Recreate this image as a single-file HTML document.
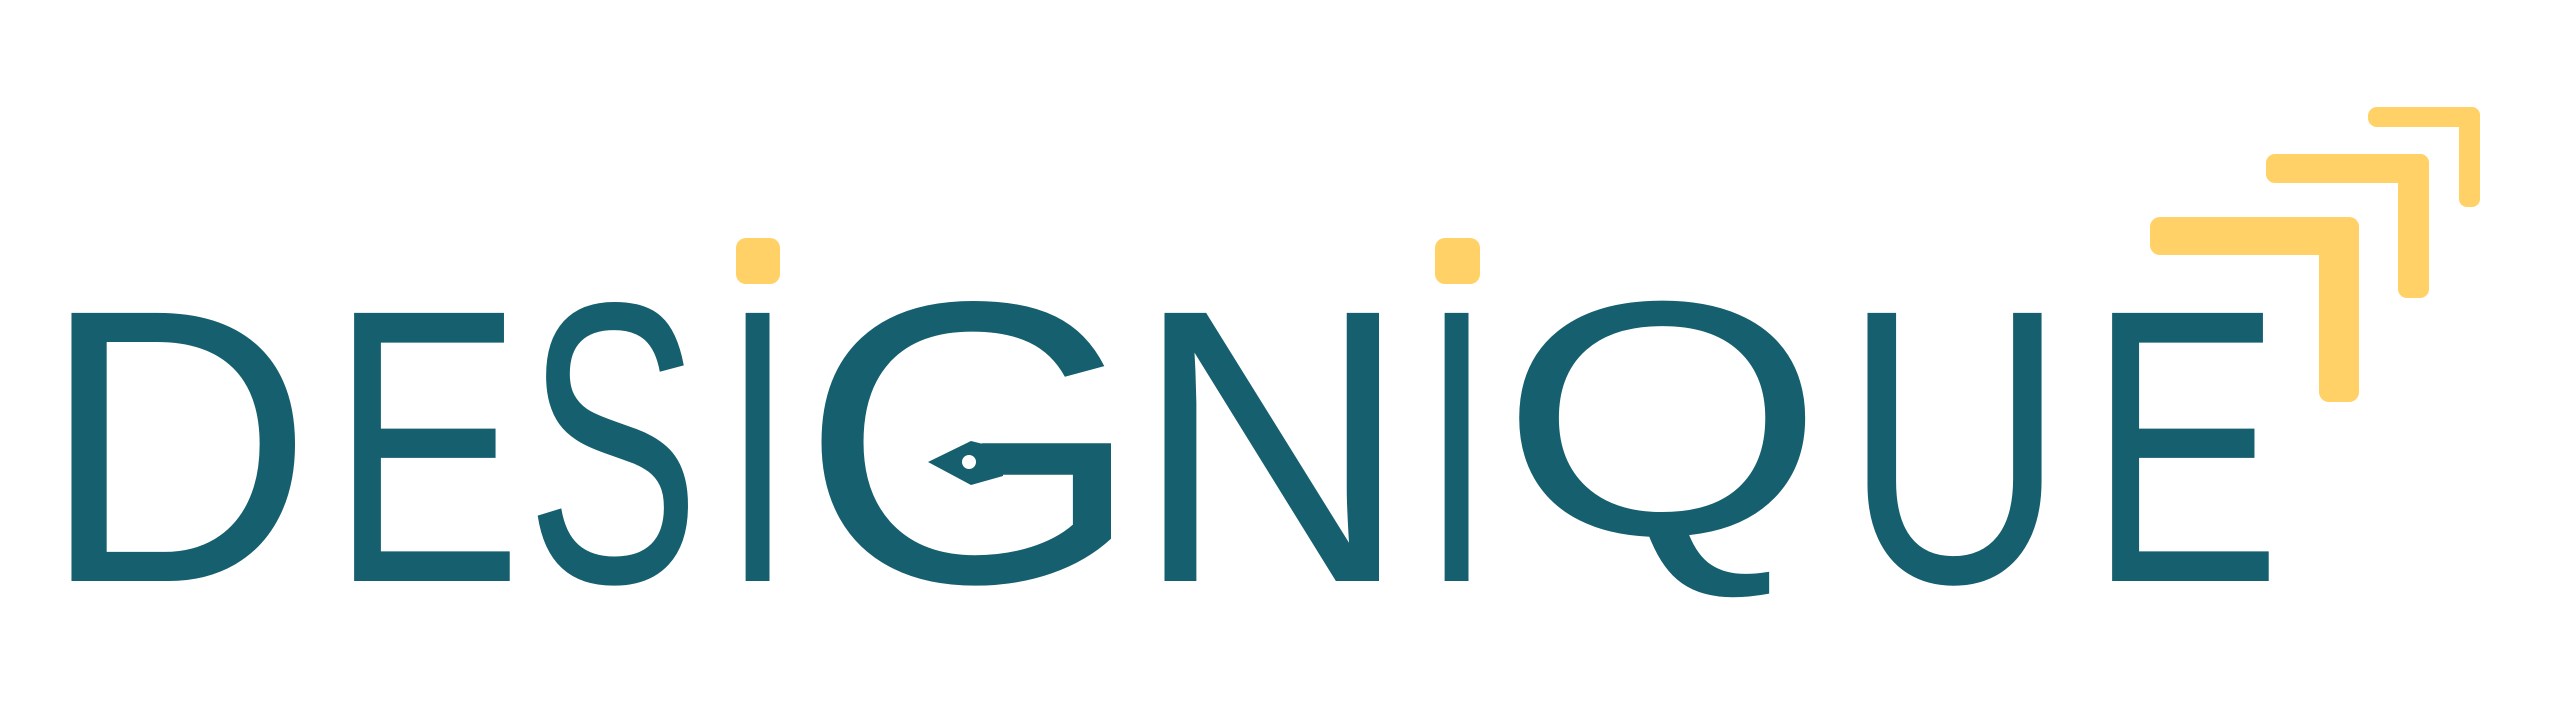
<!DOCTYPE html>
<html><head><meta charset="utf-8">
<style>
html,body{margin:0;padding:0;background:#fff;}
svg{display:block;}
text{font-family:"Liberation Sans",sans-serif;fill:#155f6e;font-size:300px;}
</style></head>
<body>
<svg width="2550" height="709" viewBox="0 0 2550 709">
  <g id="word">
    <text>D</text>
    <text>E</text>
    <text>S</text>
    <text>I</text>
    <text>G</text>
    <text>N</text>
    <text>I</text>
    <text>Q</text>
    <text>U</text>
    <text>E</text>
  </g>
  <g>
    <polygon points="928,462 971,441 1003,449 1003,476 971,485" fill="#155f6e"/>
    <circle cx="969" cy="462" r="7" fill="#fff"/>
  </g>
  <rect x="736" y="238" width="44" height="46" rx="10" fill="#ffd166"/>
  <rect x="1435" y="238" width="45" height="46" rx="10" fill="#ffd166"/>
  <g fill="#ffd166">
    <rect x="2368" y="107" width="112" height="20" rx="9"/>
    <rect x="2459" y="107" width="21" height="100" rx="8"/>
    <rect x="2266" y="154" width="163" height="29" rx="9"/>
    <rect x="2398" y="154" width="31" height="144" rx="9"/>
    <rect x="2150" y="217" width="209" height="38" rx="10"/>
    <rect x="2319" y="217" width="40" height="185" rx="10"/>
  </g>
</svg>
<script>
var boxes=[[70,300,307,581],[353,510,307,581],[534,689,300,588],[742,770,307,581],[820,1111,299,588],[1163,1379,307,581],[1441,1469,307,581],[1519,1807,299,602],[1863,2045,307,588],[2111,2269,307,581]];
var ctx=document.createElement('canvas').getContext('2d');
ctx.font='300px "Liberation Sans", sans-serif';
var ts=document.querySelectorAll('#word text');
for(var i=0;i<ts.length;i++){
  var t=ts[i],b=boxes[i],m=ctx.measureText(t.textContent);
  var L=m.actualBoundingBoxLeft,R=m.actualBoundingBoxRight,A=m.actualBoundingBoxAscent,D=m.actualBoundingBoxDescent;
  var sx=(b[1]-b[0])/(L+R),sy=(b[3]-b[2])/(A+D);
  t.setAttribute('x',0);t.setAttribute('y',0);
  t.setAttribute('transform','translate('+(b[0]+L*sx)+','+(b[2]+A*sy)+') scale('+sx+','+sy+')');
}
</script>
</body></html>
